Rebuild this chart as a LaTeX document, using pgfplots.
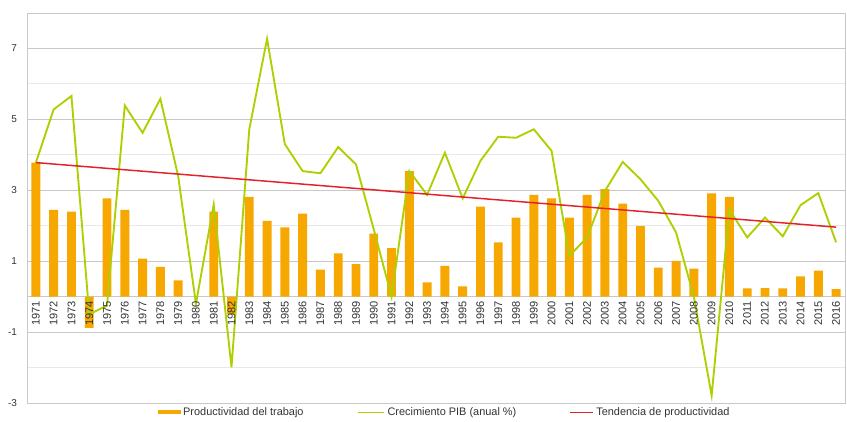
\documentclass[border=0pt]{standalone}
\usepackage{pgfplots}
\pgfplotsset{compat=1.18}
\usepackage{pgfplotstable}
\usepackage{fontspec}
\setmainfont{Liberation Sans}
\definecolor{barorange}{RGB}{247,168,0}
\definecolor{gdpgreen}{RGB}{174,207,0}
\definecolor{trendred}{RGB}{228,32,40}
\definecolor{gridmaj}{RGB}{200,200,200}
\definecolor{gridmin}{RGB}{232,232,232}
\definecolor{ticktext}{RGB}{50,50,50}

\pgfplotsset{
  layers/labelsontop/.define layer set={
    axis background,axis grid,axis ticks,axis lines,pre main,main,axis tick labels,axis descriptions,axis foreground
  }{
    grid style={/pgfplots/on layer=axis grid},
    tick style={/pgfplots/on layer=axis ticks},
    axis line style={/pgfplots/on layer=axis lines},
    label style={/pgfplots/on layer=axis descriptions},
    legend style={/pgfplots/on layer=axis descriptions},
    title style={/pgfplots/on layer=axis descriptions},
    ticklabel style={/pgfplots/on layer=axis tick labels},
    axis background@ style={/pgfplots/on layer=axis background},
  },
}

\pgfplotstableread{
year prod gdp
1971 3.78 3.78
1972 2.45 5.28
1973 2.40 5.66
1974 -0.88 -0.50
1975 2.77 -0.25
1976 2.45 5.39
1977 1.07 4.62
1978 0.84 5.58
1979 0.46 3.40
1980 0.00 -0.20
1981 2.40 2.60
1982 -0.50 -1.99
1983 2.81 4.72
1984 2.14 7.27
1985 1.95 4.30
1986 2.34 3.54
1987 0.76 3.48
1988 1.22 4.22
1989 0.92 3.73
1990 1.78 1.90
1991 1.37 0.00
1992 3.54 3.54
1993 0.40 2.87
1994 0.87 4.06
1995 0.29 2.77
1996 2.54 3.83
1997 1.53 4.51
1998 2.23 4.48
1999 2.87 4.72
2000 2.77 4.11
2001 2.23 1.15
2002 2.87 1.67
2003 3.03 2.98
2004 2.62 3.80
2005 1.99 3.31
2006 0.82 2.70
2007 1.01 1.81
2008 0.79 0.00
2009 2.91 -2.79
2010 2.81 2.45
2011 0.23 1.67
2012 0.24 2.23
2013 0.23 1.70
2014 0.57 2.58
2015 0.73 2.92
2016 0.21 1.53
}\datatable

\pgfplotstableread{
year trend
1971 3.78
2016 1.96
}\trendtable

\begin{document}
\begin{tikzpicture}
\begin{axis}[
  set layers=labelsontop,
  at={(20.25pt,13.5pt)}, anchor=south west,
  scale only axis,
  width=613.5pt, height=292.5pt,
  xmin=1970.5, xmax=2016.5,
  ymin=-3, ymax=8,
  axis x line=middle,
  axis y line=left,
  axis line style={-, draw=gridmaj},
  axis background/.style={draw=gridmaj},
  xtick={1971,...,2016},
  ytick={-3,-1,1,3,5,7},
  minor ytick={-2,0,2,4,6},
  ymajorgrids, yminorgrids,
  major grid style={draw=gridmaj, line width=0.6pt},
  minor grid style={draw=gridmin, line width=0.6pt},
  major tick length=0pt, minor tick length=0pt,
  /pgf/number format/assume math mode=true,
  x tick label style={rotate=90, anchor=east, font=\fontsize{8.3}{9}\selectfont, text=ticktext,
     /pgf/number format/1000 sep={}},
  y tick label style={font=\fontsize{7.5}{9}\selectfont, text=ticktext, xshift=-4pt},
  legend style={at={(axis description cs:0.5,0)}, anchor=center, xshift=6.75pt, yshift=-6.9pt,
     draw=none, fill=none, legend columns=3, font=\fontsize{8.2}{9}\selectfont, text=ticktext,
     inner sep=1pt,
     /tikz/every even column/.append style={column sep=38pt}},
  clip=false,
]
\addplot[ybar, bar width=0.5, fill=barorange, draw=none,
  legend image code/.code={\fill[barorange] (0pt,-1.6pt) rectangle (17pt,1.6pt);}]
  table[x=year, y=prod] {\datatable};
\addlegendentry{Productividad del trabajo}
\addplot[gdpgreen, line width=1.4pt, mark=none,
  legend image code/.code={\draw[gdpgreen, line width=1pt] (0pt,0pt) -- (20pt,0pt);}]
  table[x=year, y=gdp] {\datatable};
\addlegendentry{Crecimiento PIB (anual \%)}
\addplot[trendred, line width=1.1pt, mark=none,
  legend image code/.code={\draw[trendred, line width=1pt] (0pt,0pt) -- (17pt,0pt);}]
  table[x=year, y=trend] {\trendtable};
\addlegendentry{Tendencia de productividad}
\end{axis}
\useasboundingbox (0,0) rectangle (635.25pt,315.75pt);
\end{tikzpicture}
\end{document}
